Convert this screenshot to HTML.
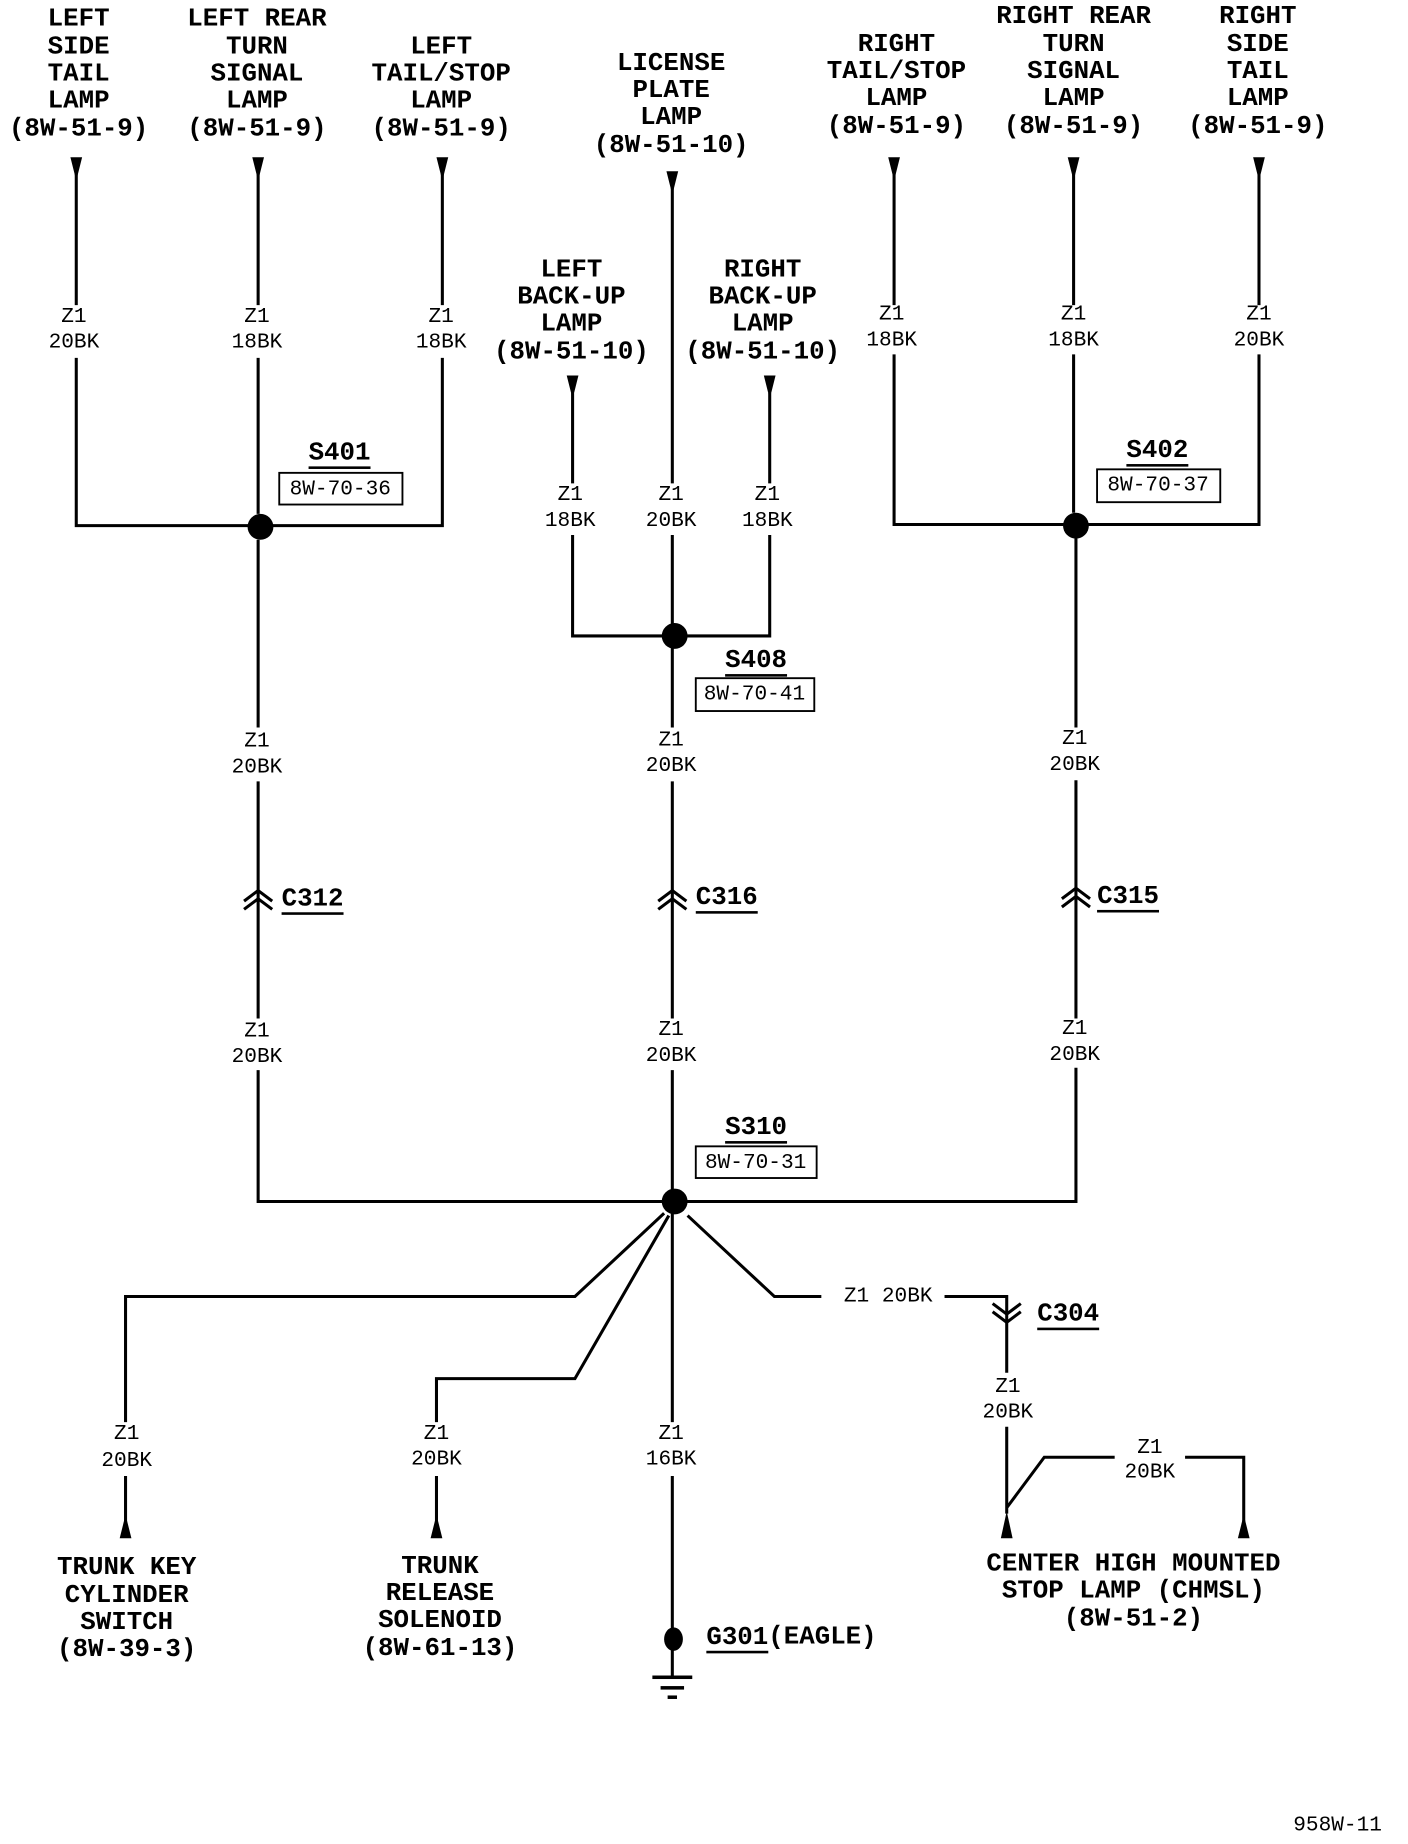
<!DOCTYPE html>
<html><head><meta charset="utf-8"><style>
html,body{margin:0;padding:0;background:#fff;}
svg{display:block;}
.h{font-family:"Liberation Mono",monospace;font-weight:bold;font-size:22px;text-anchor:middle;}
.s{font-family:"Liberation Mono",monospace;font-size:18px;text-anchor:middle;}
.c{font-family:"Liberation Mono",monospace;font-weight:bold;font-size:22px;text-decoration:underline;}
</style></head><body>
<svg width="1408" height="1844" viewBox="0 0 1200 1571.6" preserveAspectRatio="none" xmlns="http://www.w3.org/2000/svg">
<g stroke="#000" stroke-width="2.6" fill="none">
<path d="M65 148V260M65 305V448H212"/>
<path d="M220 148V260M220 305V438M220 460V620M220 666V868M220 912V1024H565"/>
<path d="M377 148V260M377 305V448H232"/>
<path d="M573 160V412M573 456V532"/>
<path d="M488 335V412M488 456V542H565"/>
<path d="M656 335V412M656 456V542H585"/>
<path d="M573 552V620M573 666V868M573 912V1014"/>
<path d="M762 148V260M762 302V447H908"/>
<path d="M915 148V260M915 302V437M917 458V620M917 665V868M917 910V1024H585"/>
<path d="M1073 148V260M1073 302V447H927"/>
<path d="M566 1034L490 1105H107V1212M107 1258V1300"/>
<path d="M570 1036L490 1175H372V1212M372 1258V1300"/>
<path d="M573 1034V1212M573 1258V1395M573 1405V1430"/>
<path d="M586 1036L660 1105H700M805 1105H858V1170M858 1216V1290M858 1285L890 1242H950M1010 1242H1060V1300"/>
</g>
<g fill="#000">
<path d="M60 134H70L65 154Z"/><path d="M215 134H225L220 154Z"/><path d="M372 134H382L377 154Z"/>
<path d="M568 146H578L573 166Z"/><path d="M483 320H493L488 340Z"/><path d="M651 320H661L656 340Z"/>
<path d="M757 134H767L762 154Z"/><path d="M910 134H920L915 154Z"/><path d="M1068 134H1078L1073 154Z"/>
<path d="M102 1311H112L107 1291Z"/><path d="M367 1311H377L372 1291Z"/>
<path d="M853 1311H863L858 1288Z"/><path d="M1055 1311H1065L1060 1291Z"/>
<circle cx="222" cy="449" r="11"/><circle cx="575" cy="542" r="11"/><circle cx="917" cy="448" r="11"/><circle cx="575" cy="1024" r="11"/>
<ellipse cx="574" cy="1397" rx="8" ry="10"/>
<rect x="556" y="1428" width="34" height="3"/><rect x="563" y="1437" width="20" height="3"/><rect x="569" y="1445" width="8" height="3"/>
</g>
<g stroke="#000" stroke-width="2.6" fill="none">
<path d="M208 768L220 759L232 768M208 775L220 766L232 775"/>
<path d="M561 768L573 759L585 768M561 775L573 766L585 775"/>
<path d="M905 766L917 757L929 766M905 773L917 764L929 773"/>
<path d="M846 1111L858 1120L870 1111M846 1118L858 1127L870 1118"/>
</g>
<g stroke="#000" stroke-width="1.6" fill="none">
<rect x="238" y="403" width="105" height="27"/><rect x="593" y="578" width="101" height="28"/>
<rect x="935" y="400" width="105" height="28"/><rect x="593" y="977" width="103" height="27"/>
</g>
<g dominant-baseline="central">
<g class="h">
<text x="67" y="16">LEFT</text><text x="67" y="40">SIDE</text><text x="67" y="63">TAIL</text><text x="67" y="86">LAMP</text><text x="67" y="110">(8W-51-9)</text>
<text x="219" y="16">LEFT REAR</text><text x="219" y="40">TURN</text><text x="219" y="63">SIGNAL</text><text x="219" y="86">LAMP</text><text x="219" y="110">(8W-51-9)</text>
<text x="376" y="40">LEFT</text><text x="376" y="63">TAIL/STOP</text><text x="376" y="86">LAMP</text><text x="376" y="110">(8W-51-9)</text>
<text x="572" y="54">LICENSE</text><text x="572" y="77">PLATE</text><text x="572" y="100">LAMP</text><text x="572" y="124">(8W-51-10)</text>
<text x="487" y="230">LEFT</text><text x="487" y="253">BACK-UP</text><text x="487" y="276">LAMP</text><text x="487" y="300">(8W-51-10)</text>
<text x="650" y="230">RIGHT</text><text x="650" y="253">BACK-UP</text><text x="650" y="276">LAMP</text><text x="650" y="300">(8W-51-10)</text>
<text x="764" y="38">RIGHT</text><text x="764" y="61">TAIL/STOP</text><text x="764" y="84">LAMP</text><text x="764" y="108">(8W-51-9)</text>
<text x="915" y="14">RIGHT REAR</text><text x="915" y="38">TURN</text><text x="915" y="61">SIGNAL</text><text x="915" y="84">LAMP</text><text x="915" y="108">(8W-51-9)</text>
<text x="1072" y="14">RIGHT</text><text x="1072" y="38">SIDE</text><text x="1072" y="61">TAIL</text><text x="1072" y="84">LAMP</text><text x="1072" y="108">(8W-51-9)</text>
<text x="108" y="1336">TRUNK KEY</text><text x="108" y="1360">CYLINDER</text><text x="108" y="1383">SWITCH</text><text x="108" y="1406">(8W-39-3)</text>
<text x="375" y="1335">TRUNK</text><text x="375" y="1358">RELEASE</text><text x="375" y="1381">SOLENOID</text><text x="375" y="1405">(8W-61-13)</text>
<text x="966" y="1333">CENTER HIGH MOUNTED</text><text x="966" y="1356">STOP LAMP (CHMSL)</text><text x="966" y="1380">(8W-51-2)</text>
</g>
<g class="c">
<text x="263" y="386">S401</text><text x="618" y="563">S408</text><text x="960" y="384">S402</text><text x="618" y="961">S310</text>
<text x="240" y="766">C312</text><text x="593" y="765">C316</text><text x="935" y="764">C315</text><text x="884" y="1120">C304</text>
</g>
<text x="602" y="1395" class="c" style="text-decoration:none"><tspan text-decoration="underline">G301</tspan>(EAGLE)</text>
<g class="s">
<text x="290" y="417">8W-70-36</text><text x="643" y="592">8W-70-41</text>
<text x="987" y="414">8W-70-37</text><text x="644" y="991">8W-70-31</text>
<text x="63" y="270">Z1</text><text x="63" y="292">20BK</text>
<text x="219" y="270">Z1</text><text x="219" y="292">18BK</text>
<text x="376" y="270">Z1</text><text x="376" y="292">18BK</text>
<text x="486" y="422">Z1</text><text x="486" y="444">18BK</text>
<text x="572" y="422">Z1</text><text x="572" y="444">20BK</text>
<text x="654" y="422">Z1</text><text x="654" y="444">18BK</text>
<text x="760" y="268">Z1</text><text x="760" y="290">18BK</text>
<text x="915" y="268">Z1</text><text x="915" y="290">18BK</text>
<text x="1073" y="268">Z1</text><text x="1073" y="290">20BK</text>
<text x="219" y="632">Z1</text><text x="219" y="654">20BK</text>
<text x="572" y="631">Z1</text><text x="572" y="653">20BK</text>
<text x="916" y="630">Z1</text><text x="916" y="652">20BK</text>
<text x="219" y="879">Z1</text><text x="219" y="901">20BK</text>
<text x="572" y="878">Z1</text><text x="572" y="900">20BK</text>
<text x="916" y="877">Z1</text><text x="916" y="899">20BK</text>
<text x="108" y="1222">Z1</text><text x="108" y="1245">20BK</text>
<text x="372" y="1222">Z1</text><text x="372" y="1244">20BK</text>
<text x="572" y="1222">Z1</text><text x="572" y="1244">16BK</text>
<text x="757" y="1105">Z1 20BK</text>
<text x="859" y="1182">Z1</text><text x="859" y="1204">20BK</text>
<text x="980" y="1234">Z1</text><text x="980" y="1255">20BK</text>
<text x="1140" y="1556">958W-11</text>
</g>
</g>
</svg>
</body></html>
